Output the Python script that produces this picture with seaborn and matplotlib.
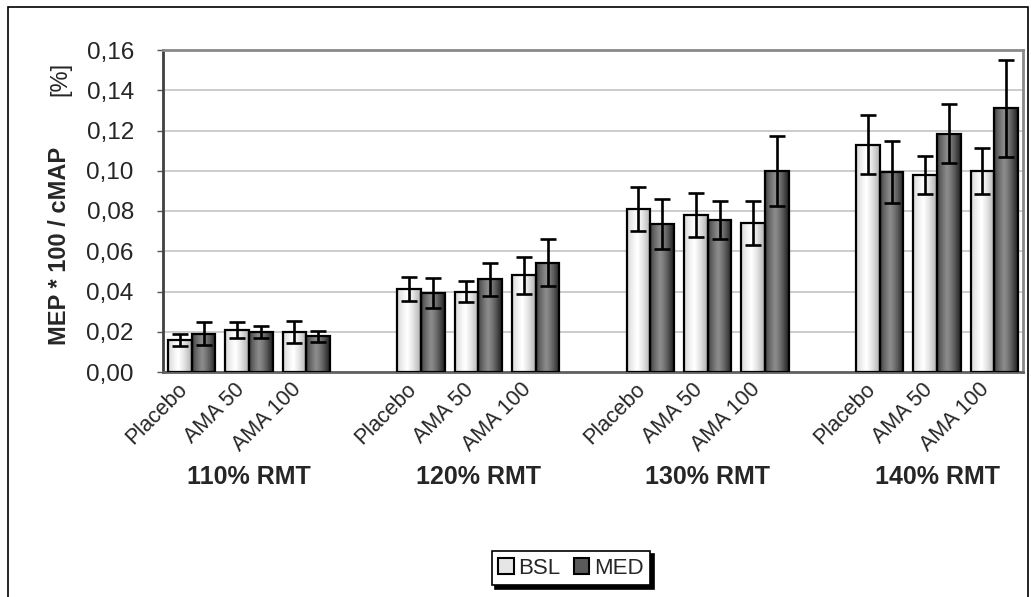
import numpy as np
import pandas as pd
import matplotlib
matplotlib.use("Agg")
import matplotlib.pyplot as plt
import matplotlib.transforms as mtransforms
from matplotlib.patches import Rectangle
import seaborn as sns

# ---------------- data ----------------
groups = ["110% RMT", "120% RMT", "130% RMT", "140% RMT"]
drugs = ["Placebo", "AMA 50", "AMA 100"]
series = ["BSL", "MED"]

bsl_mean = [0.016, 0.0207, 0.020,
            0.0413, 0.040, 0.048,
            0.081, 0.078, 0.074,
            0.113, 0.0977, 0.0998]
bsl_err = [0.003, 0.004, 0.0055,
           0.006, 0.005, 0.009,
           0.011, 0.011, 0.011,
           0.0147, 0.0094, 0.0114]
med_mean = [0.019, 0.0198, 0.0177,
            0.0393, 0.046, 0.0543,
            0.0735, 0.0755, 0.0998,
            0.0993, 0.1185, 0.131]
med_err = [0.0058, 0.003, 0.0028,
           0.0076, 0.008, 0.0118,
           0.0125, 0.0095, 0.0175,
           0.0155, 0.0147, 0.024]

yticks = [0.00, 0.02, 0.04, 0.06, 0.08, 0.10, 0.12, 0.14, 0.16]

# ---------------- long table ----------------
rows = []
i = 0
for g in groups:
    for d in drugs:
        key = f"{g}|{d}"
        rows.append({"slot": key, "series": "BSL", "value": bsl_mean[i], "err": bsl_err[i]})
        rows.append({"slot": key, "series": "MED", "value": med_mean[i], "err": med_err[i]})
        i += 1
df = pd.DataFrame(rows)

order = []
labels = []
for gi, g in enumerate(groups):
    for d in drugs:
        order.append(f"{g}|{d}")
        labels.append(d)
    if gi < len(groups) - 1:
        order.append(" " * (gi + 1))
        labels.append("")

# ---------------- figure ----------------
sns.set_theme(style="white")
plt.rcParams["font.family"] = ["Liberation Sans", "DejaVu Sans"]

W, H = 1031, 597
fig = plt.figure(figsize=(W / 100, H / 100), dpi=100)
ax = fig.add_axes([163 / W, 1 - 372 / H, (1023 - 163) / W, (372 - 50) / H])

sns.barplot(data=df, x="slot", y="value", hue="series", order=order,
            hue_order=series, errorbar=None, width=0.83,
            palette={"BSL": "#eeeeee", "MED": "#6a6a6a"},
            edgecolor="black", linewidth=1.6, ax=ax, legend=False, zorder=3)

# gradients (cylinder-like shading)
xs = np.linspace(0, 1, 64)
def grad(c_edge_l, c_mid, c_edge_r, pos=0.42):
    out = []
    for t in xs:
        if t < pos:
            f = t / pos
            c = c_edge_l + (c_mid - c_edge_l) * f ** 0.7
        else:
            f = (t - pos) / (1 - pos)
            c = c_mid + (c_edge_r - c_mid) * f ** 1.3
        out.append(c)
    return np.array(out)

g_bsl = grad(0.82, 1.0, 0.68)
g_med = grad(0.22, 0.55, 0.12)

bar_patches = [p for p in ax.patches if isinstance(p, Rectangle) and p.get_height() > 0]
centers = []
for p in bar_patches:
    x0, w, h = p.get_x(), p.get_width(), p.get_height()
    fc = p.get_facecolor()
    is_bsl = fc[0] > 0.6
    gvals = g_bsl if is_bsl else g_med
    img = np.tile(gvals, (2, 1))
    im = ax.imshow(img, extent=[x0, x0 + w, 0, h], aspect="auto", cmap="gray",
                   vmin=0, vmax=1, zorder=2.9, interpolation="bilinear")
    im.set_clip_path(p)
    p.set_facecolor("none")
    p.set_zorder(3)
    centers.append((x0 + w / 2, h, is_bsl))

# error bars at the bar positions
for (cx, h, is_bsl) in centers:
    row = df[(np.isclose(df["value"], h)) & (df["series"] == ("BSL" if is_bsl else "MED"))]
    e = float(row["err"].iloc[0])
    ax.errorbar(cx, h, yerr=e, fmt="none", ecolor="black", elinewidth=1.9,
                capsize=5.5, capthick=1.9, zorder=4)

ax.set_xlim(-0.5, len(order) - 0.5)
ax.set_ylim(0, 0.16)
ax.set_yticks(yticks)
ax.set_yticklabels([f"{v:.2f}".replace(".", ",") for v in yticks], fontsize=17.5)
ax.set_xticks(range(len(order)))
ax.set_xticklabels(labels, rotation=45, ha="right", va="center",
                   rotation_mode="anchor", fontsize=15.5)
ax.tick_params(axis="x", length=0, pad=6)
ax.tick_params(axis="y", length=4, width=1, color="#555555", pad=17, left=True)
shift = mtransforms.ScaledTranslation(-0.08, -0.06, fig.dpi_scale_trans)
for lbl in ax.get_xticklabels():
    lbl.set_transform(lbl.get_transform() + shift)
ax.set_xlabel("")
ax.set_ylabel("")

ax.yaxis.grid(True, color="#c8c8c8", linewidth=1.3, zorder=0)
ax.set_axisbelow(True)
for s in ["top", "right"]:
    ax.spines[s].set_color("#8a8a8a")
    ax.spines[s].set_linewidth(2)
ax.spines["left"].set_color("#404040")
ax.spines["left"].set_linewidth(2)
ax.spines["bottom"].set_color("#606060")
ax.spines["bottom"].set_linewidth(2)

# group labels
trans = mtransforms.blended_transform_factory(ax.transData, ax.transAxes)
for gi, g in enumerate(groups):
    ax.text(gi * 4 + 1, -(477 - 372) / 322, g, transform=trans, ha="center",
            va="center", fontsize=18, fontweight="bold")

# y label (bold part + unit)
fig.text(60 / W, 1 - 246 / H, "MEP * 100 / cMAP", rotation=90, ha="center",
         va="center", fontsize=17, fontweight="bold")
fig.text(60 / W, 1 - 79 / H, "[%]", rotation=90, ha="center", va="center",
         fontsize=17)

# legend
handles = [Rectangle((0, 0), 1, 1, facecolor="#e6e6e6", edgecolor="black", lw=1.5),
           Rectangle((0, 0), 1, 1, facecolor="#5a5a5a", edgecolor="black", lw=1.5)]
leg = fig.legend(handles, series, loc="center", bbox_to_anchor=(571 / W, 1 - 568 / H),
                 ncol=2, fontsize=16, frameon=True, fancybox=False,
                 shadow={"color": "black", "alpha": 1, "ox": 2.5, "oy": -2.5},
                 handlelength=0.7, handleheight=0.7, handletextpad=0.2,
                 columnspacing=0.6, borderpad=0.3, borderaxespad=0)
leg.get_frame().set_edgecolor("black")
leg.get_frame().set_linewidth(1.2)
leg.get_frame().set_alpha(1)

# outer frame
fig.add_artist(Rectangle((8 / W, -0.02), (1028 - 8) / W, 1 - 7 / H + 0.02,
                         transform=fig.transFigure, fill=False,
                         edgecolor="black", linewidth=1.2))

fig.savefig("out.png", dpi=100)
